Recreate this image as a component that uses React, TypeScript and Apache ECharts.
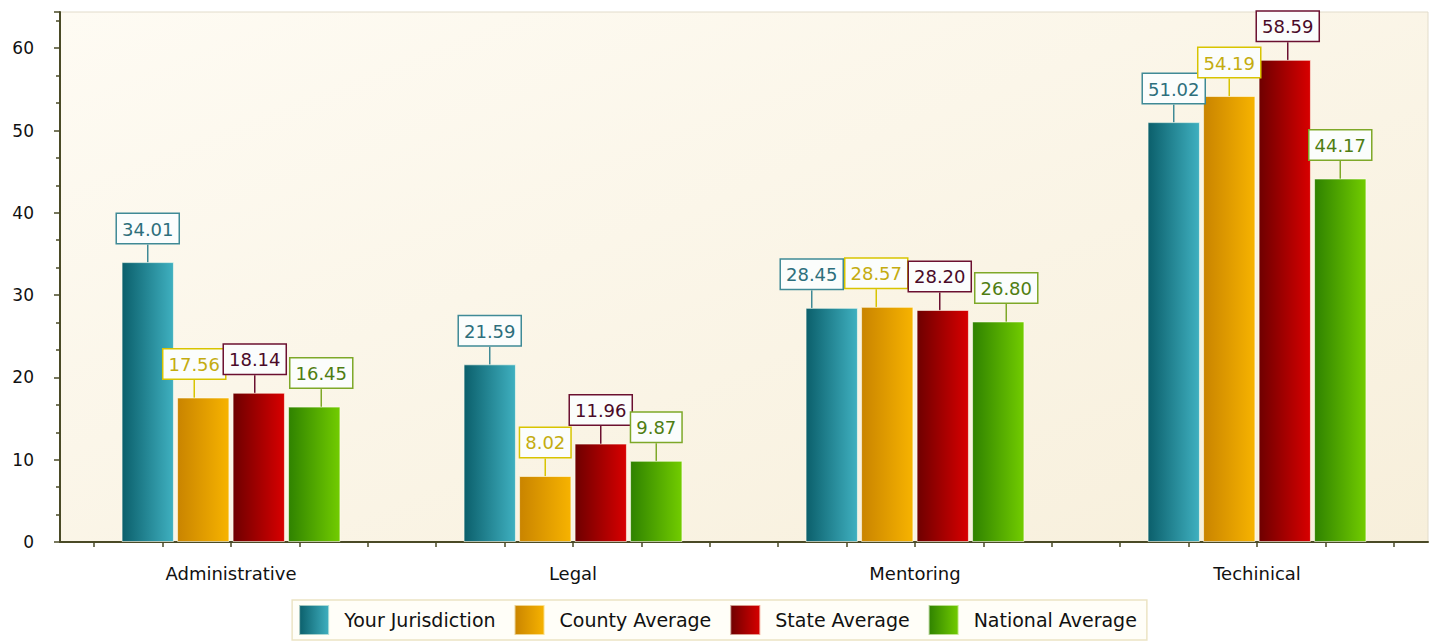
import React, { useEffect, useRef } from "react";
import * as echarts from "echarts";

const categories = ["Administrative", "Legal", "Mentoring", "Techinical"];
const seriesNames = ["Your Jurisdiction", "County Average", "State Average", "National Average"];
const yourJurisdiction = [34.01, 21.59, 28.45, 51.02];
const countyAverage = [17.56, 8.02, 28.57, 54.19];
const stateAverage = [18.14, 11.96, 28.2, 58.59];
const nationalAverage = [16.45, 9.87, 26.8, 44.17];
const seriesValues = [yourJurisdiction, countyAverage, stateAverage, nationalAverage];

const gradients = [
  ["#0b5f6b", "#3fb0c0"],
  ["#c98400", "#f7b300"],
  ["#6e0000", "#d80000"],
  ["#2f8200", "#72cc00"],
];
const labelText = ["#2d6f7c", "#c4ac10", "#4a0a28", "#4f7d12"];
const labelBorder = ["#3f8a96", "#d8c400", "#6b1030", "#7ea828"];
// horizontal nudges of the value boxes (label de-overlap), per series then category
const labelNudge = [
  [0, 0, -20, 0],
  [-9, 0, -11, 0],
  [-4, 0, -3, 3],
  [7, 0, 8, 0],
];

const FONT = "DejaVu Sans";

export default function App() {
  const ref = useRef<HTMLDivElement>(null);
  useEffect(() => {
    const chart = echarts.init(ref.current!, null, { renderer: "svg" });
    const grad = (i: number) =>
      new echarts.graphic.LinearGradient(0, 0, 1, 0, [
        { offset: 0, color: gradients[i][0] },
        { offset: 1, color: gradients[i][1] },
      ]);
    const minorCats = Array.from({ length: 20 }, (_, i) => String(i));
    chart.setOption({
      animation: false,
      backgroundColor: "#ffffff",
      grid: {
        left: 60,
        top: 12,
        right: 7,
        bottom: 99,
        show: true,
        backgroundColor: new echarts.graphic.LinearGradient(0, 0, 1, 1, [
          { offset: 0, color: "#fefbf3" },
          { offset: 1, color: "#f7efdb" },
        ]),
        borderColor: "#e2dccb",
        borderWidth: 1,
      },
      legend: {
        bottom: 1,
        left: "center",
        itemWidth: 30,
        itemHeight: 30,
        itemGap: 18,
        padding: [4, 10, 4, 6],
        borderColor: "#ece4c4",
        borderWidth: 1.5,
        backgroundColor: "#fffef8",
        textStyle: { fontFamily: FONT, fontSize: 19, color: "#111", padding: [0, 0, 0, 10] },
        data: seriesNames.map((n) => ({ name: n, icon: "rect" })),
      },
      xAxis: [
        {
          type: "category",
          data: categories,
          axisLine: { lineStyle: { color: "#4a4a26", width: 2 } },
          axisTick: { show: false },
          axisLabel: { fontFamily: FONT, fontSize: 18, color: "#111", margin: 22 },
        },
        {
          type: "category",
          data: minorCats,
          position: "bottom",
          boundaryGap: true,
          axisLine: { show: false },
          axisTick: { show: true, alignWithLabel: true, length: 5, lineStyle: { color: "#4a4a26", width: 1.5 } },
          axisLabel: { show: false },
          splitLine: { show: false },
        },
      ],
      yAxis: {
        type: "value",
        min: 0,
        max: 64.4,
        interval: 10,
        axisLine: { show: true, lineStyle: { color: "#4a4a26", width: 2 } },
        axisTick: { show: true, length: 6, lineStyle: { color: "#4a4a26", width: 1.5 } },
        minorTick: { show: true, splitNumber: 3, length: 4, lineStyle: { color: "#4a4a26", width: 1.5 } },
        splitLine: { show: false },
        axisLabel: {
          fontFamily: FONT,
          fontSize: 17,
          color: "#111",
          margin: 26,
          showMaxLabel: false,
          formatter: (v: number) => (v % 10 === 0 ? String(v) : ""),
        },
      },
      series: seriesNames.map((name, i) => ({
        name,
        type: "bar",
        xAxisIndex: 0,
        data: seriesValues[i],
        barCategoryGap: "36%",
        barGap: "6%",
        itemStyle: { color: grad(i), borderColor: "rgba(255,255,240,0.6)", borderWidth: 1 },
        label: {
          show: true,
          position: "top",
          distance: 19,
          formatter: (p: any) => p.value.toFixed(2),
          fontFamily: FONT,
          fontSize: 18,
          color: labelText[i],
          backgroundColor: "#fbfdfc",
          borderColor: labelBorder[i],
          borderWidth: 1.5,
          padding: [6, 5, 5, 5],
        },
        labelLine: { show: true, lineStyle: { color: labelBorder[i], width: 1.5 } },
        labelLayout: (p: any) => ({ dx: labelNudge[i][p.dataIndex] }),
      })),
    });
    return () => chart.dispose();
  }, []);
  return (
    <div
      ref={ref}
      style={{ position: "fixed", left: 0, top: 0, width: 1435, height: 641 }}
    />
  );
}
